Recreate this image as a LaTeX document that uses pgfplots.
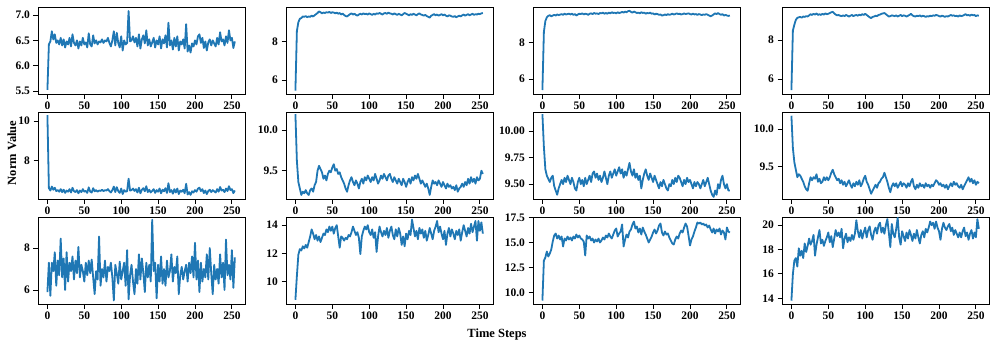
\documentclass[border=0pt]{standalone}
\usepackage{fontspec}
\setmainfont{Liberation Serif}
\usepackage{pgfplots}
\pgfplotsset{compat=1.18}
\definecolor{tabblue}{RGB}{31,119,180}
\pgfplotsset{
  panel/.style={
    width=207pt, height=87pt, scale only axis,
    anchor=north west,
    xmin=-12.75, xmax=267.75,
    xtick={0,50,100,150,200,250},
    xticklabels={0,50,100,150,200,250},
    tick align=outside,
    xtick pos=bottom, ytick pos=left,
    major tick length=4.5pt,
    tick style={black, line width=0.9pt},
    axis line style={line width=0.9pt},
    ticklabel style={font=\bfseries\fontsize{11.5}{13}\selectfont},
    /pgf/number format/assume math mode=true,
    cycle list={{tabblue, mark=none}},
    every axis plot post/.append style={line width=1.8pt, line join=round},
    clip=true,
  },
}
\begin{document}
\begin{tikzpicture}
\path[use as bounding box] (0pt,0pt) rectangle (996pt,-349pt);
% ---------------- Row 1 ----------------
\begin{axis}[panel, at={(38pt,-7pt)}, ymin=5.44, ymax=7.16, ytick={5.5,6.0,6.5,7.0}, yticklabels={5.5,6.0,6.5,7.0}]
\addplot table[x expr=\coordindex*2, y index=0, header=false, row sep=\\] {
5.52\\6.42\\6.48\\6.68\\6.52\\6.62\\6.45\\6.50\\6.42\\6.55\\6.40\\6.52\\6.36\\6.48\\6.42\\6.55\\
6.38\\6.62\\6.45\\6.40\\6.50\\6.34\\6.48\\6.40\\6.55\\6.42\\6.46\\6.36\\6.64\\6.42\\6.38\\6.60\\
6.44\\6.50\\6.42\\6.48\\6.46\\6.52\\6.45\\6.50\\6.48\\6.55\\6.45\\6.38\\6.50\\6.68\\6.40\\6.65\\
6.45\\6.36\\6.58\\6.30\\6.50\\6.42\\6.45\\7.08\\6.48\\6.50\\6.58\\6.46\\6.55\\6.38\\6.62\\6.34\\
6.52\\6.60\\6.44\\6.70\\6.40\\6.52\\6.38\\6.46\\6.55\\6.36\\6.50\\6.42\\6.58\\6.34\\6.52\\6.44\\
6.60\\6.36\\6.85\\6.40\\6.50\\6.32\\6.55\\6.38\\6.58\\6.30\\6.48\\6.42\\6.52\\6.34\\6.82\\6.28\\
6.40\\6.26\\6.44\\6.38\\6.50\\6.42\\6.58\\6.62\\6.45\\6.55\\6.35\\6.48\\6.30\\6.46\\6.52\\6.40\\
6.50\\6.44\\6.38\\6.55\\6.42\\6.66\\6.48\\6.52\\6.40\\6.58\\6.45\\6.70\\6.50\\6.55\\6.35\\6.48\\
};
\end{axis}
\begin{axis}[panel, at={(286pt,-7pt)}, ymin=5.28, ymax=9.79, ytick={6,8}, yticklabels={6,8}]
\addplot table[x expr=\coordindex*2, y index=0, header=false, row sep=\\] {
5.45\\8.55\\9.00\\9.18\\9.22\\9.30\\9.28\\9.32\\9.26\\9.30\\9.28\\9.34\\9.30\\9.36\\9.42\\9.48\\
9.56\\9.52\\9.46\\9.50\\9.48\\9.52\\9.50\\9.54\\9.48\\9.52\\9.50\\9.46\\9.50\\9.44\\9.48\\9.40\\
9.45\\9.38\\9.32\\9.30\\9.36\\9.42\\9.46\\9.40\\9.44\\9.38\\9.34\\9.40\\9.44\\9.40\\9.46\\9.42\\
9.44\\9.40\\9.46\\9.42\\9.38\\9.44\\9.40\\9.46\\9.44\\9.48\\9.44\\9.40\\9.46\\9.48\\9.44\\9.50\\
9.46\\9.44\\9.40\\9.46\\9.42\\9.38\\9.44\\9.40\\9.36\\9.42\\9.48\\9.44\\9.40\\9.36\\9.42\\9.38\\
9.44\\9.40\\9.36\\9.42\\9.46\\9.40\\9.38\\9.34\\9.38\\9.32\\9.28\\9.24\\9.34\\9.38\\9.42\\9.36\\
9.40\\9.34\\9.38\\9.42\\9.36\\9.40\\9.34\\9.30\\9.36\\9.34\\9.30\\9.28\\9.32\\9.26\\9.30\\9.34\\
9.30\\9.36\\9.40\\9.34\\9.38\\9.42\\9.36\\9.40\\9.44\\9.38\\9.42\\9.40\\9.44\\9.42\\9.46\\9.48\\
};
\end{axis}
\begin{axis}[panel, at={(533pt,-7pt)}, ymin=5.18, ymax=9.97, ytick={6,8}, yticklabels={6,8}]
\addplot table[x expr=\coordindex*2, y index=0, header=false, row sep=\\] {
5.40\\8.60\\9.20\\9.40\\9.48\\9.52\\9.46\\9.50\\9.54\\9.50\\9.56\\9.52\\9.55\\9.58\\9.54\\9.60\\
9.56\\9.58\\9.60\\9.56\\9.60\\9.54\\9.58\\9.50\\9.56\\9.60\\9.58\\9.62\\9.56\\9.60\\9.58\\9.54\\
9.60\\9.62\\9.58\\9.64\\9.60\\9.62\\9.58\\9.64\\9.62\\9.66\\9.60\\9.64\\9.60\\9.66\\9.62\\9.68\\
9.64\\9.66\\9.62\\9.68\\9.64\\9.66\\9.70\\9.66\\9.72\\9.68\\9.74\\9.76\\9.70\\9.66\\9.72\\9.68\\
9.64\\9.66\\9.62\\9.68\\9.64\\9.66\\9.60\\9.64\\9.62\\9.66\\9.60\\9.62\\9.56\\9.60\\9.58\\9.54\\
9.56\\9.50\\9.52\\9.56\\9.52\\9.58\\9.54\\9.56\\9.60\\9.56\\9.58\\9.62\\9.58\\9.60\\9.56\\9.58\\
9.62\\9.58\\9.60\\9.62\\9.58\\9.56\\9.60\\9.56\\9.58\\9.54\\9.58\\9.56\\9.52\\9.56\\9.54\\9.58\\
9.54\\9.50\\9.46\\9.50\\9.56\\9.62\\9.58\\9.64\\9.58\\9.54\\9.58\\9.50\\9.54\\9.50\\9.48\\9.50\\
};
\end{axis}
\begin{axis}[panel, at={(782pt,-7pt)}, ymin=5.23, ymax=9.71, ytick={6,8}, yticklabels={6,8}]
\addplot table[x expr=\coordindex*2, y index=0, header=false, row sep=\\] {
5.43\\8.50\\8.80\\9.05\\9.15\\9.18\\9.20\\9.16\\9.22\\9.20\\9.24\\9.22\\9.28\\9.34\\9.30\\9.36\\
9.32\\9.38\\9.30\\9.34\\9.30\\9.36\\9.32\\9.38\\9.34\\9.36\\9.40\\9.44\\9.46\\9.38\\9.32\\9.28\\
9.30\\9.26\\9.24\\9.28\\9.24\\9.30\\9.26\\9.22\\9.26\\9.30\\9.24\\9.28\\9.30\\9.26\\9.32\\9.28\\
9.34\\9.30\\9.36\\9.30\\9.24\\9.18\\9.14\\9.20\\9.22\\9.26\\9.24\\9.30\\9.32\\9.36\\9.38\\9.40\\
9.34\\9.28\\9.22\\9.24\\9.28\\9.26\\9.24\\9.28\\9.22\\9.26\\9.30\\9.24\\9.28\\9.26\\9.22\\9.26\\
9.30\\9.36\\9.28\\9.24\\9.22\\9.26\\9.24\\9.28\\9.22\\9.26\\9.24\\9.20\\9.24\\9.22\\9.26\\9.24\\
9.28\\9.26\\9.30\\9.28\\9.24\\9.22\\9.26\\9.24\\9.20\\9.24\\9.22\\9.26\\9.30\\9.26\\9.28\\9.24\\
9.26\\9.22\\9.28\\9.24\\9.26\\9.30\\9.34\\9.28\\9.30\\9.26\\9.32\\9.28\\9.30\\9.24\\9.28\\9.26\\
};
\end{axis}
% ---------------- Row 2 ----------------
\begin{axis}[panel, at={(38pt,-112pt)}, ymin=6.05, ymax=10.46, ytick={8,10}, yticklabels={8,10}]
\addplot table[x expr=\coordindex*2, y index=0, header=false, row sep=\\] {
10.30\\6.60\\6.48\\6.68\\6.52\\6.62\\6.45\\6.50\\6.42\\6.55\\6.40\\6.52\\6.36\\6.48\\6.42\\6.55\\
6.38\\6.62\\6.45\\6.40\\6.50\\6.34\\6.48\\6.40\\6.55\\6.42\\6.46\\6.36\\6.64\\6.42\\6.38\\6.60\\
6.44\\6.50\\6.42\\6.48\\6.46\\6.52\\6.45\\6.50\\6.48\\6.55\\6.45\\6.38\\6.50\\6.68\\6.40\\6.65\\
6.45\\6.36\\6.58\\6.30\\6.50\\6.42\\6.45\\7.08\\6.48\\6.50\\6.58\\6.46\\6.55\\6.38\\6.62\\6.34\\
6.52\\6.60\\6.44\\6.70\\6.40\\6.52\\6.38\\6.46\\6.55\\6.36\\6.50\\6.42\\6.58\\6.34\\6.52\\6.44\\
6.60\\6.36\\6.85\\6.40\\6.50\\6.32\\6.55\\6.38\\6.58\\6.30\\6.48\\6.42\\6.52\\6.34\\6.82\\6.28\\
6.40\\6.26\\6.44\\6.38\\6.50\\6.42\\6.58\\6.62\\6.45\\6.55\\6.35\\6.48\\6.30\\6.46\\6.52\\6.40\\
6.50\\6.44\\6.38\\6.55\\6.42\\6.66\\6.48\\6.52\\6.40\\6.58\\6.45\\6.70\\6.50\\6.55\\6.35\\6.48\\
};
\end{axis}
\begin{axis}[panel, at={(286pt,-112pt)}, ymin=9.15, ymax=10.225, ytick={9.5,10.0}, yticklabels={9.5,10.0}]
\addplot table[x expr=\coordindex*2, y index=0, header=false, row sep=\\] {
10.20\\9.62\\9.36\\9.28\\9.20\\9.24\\9.22\\9.26\\9.22\\9.20\\9.26\\9.28\\9.24\\9.32\\9.36\\9.50\\
9.56\\9.52\\9.48\\9.40\\9.44\\9.38\\9.46\\9.50\\9.48\\9.54\\9.58\\9.50\\9.52\\9.46\\9.48\\9.42\\
9.38\\9.34\\9.28\\9.24\\9.32\\9.38\\9.42\\9.36\\9.32\\9.38\\9.34\\9.28\\9.36\\9.40\\9.34\\9.42\\
9.38\\9.44\\9.40\\9.36\\9.42\\9.38\\9.46\\9.40\\9.34\\9.38\\9.44\\9.40\\9.46\\9.42\\9.38\\9.44\\
9.46\\9.40\\9.36\\9.42\\9.38\\9.34\\9.40\\9.36\\9.32\\9.40\\9.36\\9.30\\9.36\\9.40\\9.34\\9.42\\
9.38\\9.44\\9.40\\9.46\\9.40\\9.34\\9.38\\9.34\\9.30\\9.34\\9.28\\9.20\\9.30\\9.38\\9.34\\9.36\\
9.32\\9.38\\9.34\\9.30\\9.36\\9.32\\9.28\\9.34\\9.30\\9.32\\9.28\\9.30\\9.26\\9.32\\9.24\\9.28\\
9.30\\9.34\\9.30\\9.36\\9.32\\9.40\\9.34\\9.42\\9.36\\9.40\\9.34\\9.42\\9.38\\9.40\\9.50\\9.46\\
};
\end{axis}
\begin{axis}[panel, at={(533pt,-112pt)}, ymin=9.36, ymax=10.18, ytick={9.5,9.75,10.0}, yticklabels={9.50,9.75,10.00}]
\addplot table[x expr=\coordindex*2, y index=0, header=false, row sep=\\] {
10.16\\9.85\\9.64\\9.58\\9.55\\9.52\\9.56\\9.58\\9.48\\9.44\\9.40\\9.46\\9.50\\9.54\\9.50\\9.56\\
9.52\\9.58\\9.54\\9.50\\9.56\\9.52\\9.46\\9.44\\9.52\\9.56\\9.50\\9.54\\9.48\\9.56\\9.50\\9.54\\
9.58\\9.52\\9.60\\9.62\\9.56\\9.60\\9.54\\9.58\\9.52\\9.56\\9.62\\9.56\\9.50\\9.58\\9.62\\9.56\\
9.60\\9.64\\9.58\\9.62\\9.66\\9.60\\9.64\\9.56\\9.62\\9.58\\9.64\\9.70\\9.62\\9.58\\9.64\\9.56\\
9.60\\9.54\\9.58\\9.46\\9.54\\9.60\\9.64\\9.58\\9.54\\9.60\\9.56\\9.52\\9.58\\9.54\\9.50\\9.46\\
9.52\\9.48\\9.54\\9.50\\9.46\\9.44\\9.50\\9.48\\9.54\\9.50\\9.56\\9.52\\9.58\\9.56\\9.52\\9.48\\
9.54\\9.50\\9.56\\9.52\\9.54\\9.50\\9.46\\9.52\\9.48\\9.52\\9.50\\9.46\\9.50\\9.54\\9.48\\9.52\\
9.56\\9.50\\9.44\\9.40\\9.38\\9.44\\9.40\\9.50\\9.46\\9.54\\9.58\\9.50\\9.46\\9.50\\9.44\\9.44\\
};
\end{axis}
\begin{axis}[panel, at={(782pt,-112pt)}, ymin=9.07, ymax=10.23, ytick={9.5,10.0}, yticklabels={9.5,10.0}]
\addplot table[x expr=\coordindex*2, y index=0, header=false, row sep=\\] {
10.18\\9.75\\9.56\\9.46\\9.36\\9.40\\9.38\\9.34\\9.30\\9.24\\9.20\\9.18\\9.28\\9.36\\9.32\\9.36\\
9.34\\9.40\\9.30\\9.34\\9.28\\9.30\\9.36\\9.32\\9.36\\9.32\\9.36\\9.42\\9.46\\9.40\\9.36\\9.32\\
9.34\\9.28\\9.32\\9.26\\9.30\\9.24\\9.28\\9.32\\9.26\\9.22\\9.28\\9.24\\9.30\\9.26\\9.32\\9.24\\
9.28\\9.34\\9.38\\9.30\\9.26\\9.20\\9.14\\9.18\\9.22\\9.26\\9.22\\9.28\\9.30\\9.34\\9.36\\9.42\\
9.36\\9.30\\9.22\\9.16\\9.24\\9.28\\9.24\\9.28\\9.22\\9.26\\9.30\\9.24\\9.28\\9.26\\9.22\\9.28\\
9.24\\9.30\\9.34\\9.24\\9.20\\9.26\\9.22\\9.28\\9.24\\9.26\\9.22\\9.28\\9.24\\9.26\\9.22\\9.26\\
9.24\\9.28\\9.32\\9.30\\9.26\\9.28\\9.24\\9.26\\9.22\\9.26\\9.20\\9.24\\9.28\\9.24\\9.30\\9.26\\
9.28\\9.24\\9.22\\9.26\\9.20\\9.24\\9.28\\9.32\\9.36\\9.30\\9.34\\9.28\\9.32\\9.26\\9.30\\9.28\\
};
\end{axis}
% ---------------- Row 3 ----------------
\begin{axis}[panel, at={(38pt,-217pt)}, ymin=5.33, ymax=9.48, ytick={6,8}, yticklabels={6,8}]
\addplot table[x expr=\coordindex*2, y index=0, header=false, row sep=\\] {
5.90\\7.30\\5.72\\7.30\\6.90\\7.80\\6.20\\7.40\\6.70\\8.45\\6.60\\7.50\\6.00\\7.80\\6.40\\7.30\\
6.90\\7.60\\6.50\\7.40\\6.80\\8.05\\6.60\\7.20\\6.90\\6.40\\7.30\\6.70\\7.40\\6.80\\7.45\\6.60\\
5.80\\6.90\\6.50\\8.55\\6.20\\7.00\\6.60\\7.40\\6.40\\7.10\\6.90\\7.30\\6.60\\5.50\\7.20\\6.80\\
6.30\\7.35\\6.50\\6.90\\7.30\\6.20\\7.90\\5.55\\6.70\\7.20\\6.40\\5.80\\7.00\\6.30\\7.70\\6.50\\
7.50\\6.80\\5.90\\7.30\\6.60\\7.20\\6.40\\9.35\\6.90\\7.30\\5.60\\7.20\\6.40\\7.60\\6.30\\7.00\\
6.20\\7.40\\6.60\\6.90\\7.70\\6.40\\7.10\\6.80\\7.60\\5.80\\6.70\\7.10\\6.50\\6.90\\7.20\\6.40\\
7.30\\6.80\\7.60\\6.60\\8.25\\6.50\\7.40\\5.90\\7.30\\6.40\\7.00\\6.60\\7.70\\6.50\\8.00\\6.80\\
5.80\\7.20\\6.50\\7.00\\6.30\\7.70\\6.60\\7.30\\6.00\\8.40\\6.70\\7.20\\6.50\\7.90\\6.10\\7.55\\
};
\end{axis}
\begin{axis}[panel, at={(286pt,-217pt)}, ymin=8.4, ymax=14.58, ytick={10,12,14}, yticklabels={10,12,14}]
\addplot table[x expr=\coordindex*2, y index=0, header=false, row sep=\\] {
8.70\\10.40\\11.90\\12.30\\12.20\\12.50\\12.35\\12.60\\12.40\\12.80\\13.20\\13.70\\13.40\\13.00\\13.30\\12.90\\
13.20\\12.80\\13.10\\13.40\\13.30\\13.70\\13.50\\13.90\\13.60\\13.90\\13.40\\13.80\\14.00\\13.20\\12.40\\13.20\\
13.10\\12.90\\13.10\\13.00\\13.30\\13.20\\13.50\\13.90\\13.60\\13.30\\13.50\\13.10\\11.95\\13.20\\13.60\\13.90\\
13.70\\14.00\\13.50\\13.30\\13.70\\13.10\\13.50\\12.10\\13.20\\13.90\\13.50\\13.20\\13.60\\13.30\\13.80\\13.10\\
13.60\\13.90\\13.30\\13.00\\13.70\\13.20\\13.80\\13.40\\12.60\\13.20\\12.50\\13.40\\13.00\\13.60\\13.30\\14.40\\
13.80\\13.20\\13.60\\13.00\\13.80\\13.40\\13.70\\13.10\\13.60\\12.90\\13.30\\13.80\\13.40\\13.00\\13.60\\13.90\\
14.30\\13.50\\13.90\\13.40\\13.00\\13.60\\12.60\\13.40\\13.80\\13.20\\13.70\\13.40\\13.00\\13.60\\13.30\\13.70\\
12.90\\13.50\\14.00\\13.60\\13.20\\13.80\\13.40\\14.10\\13.50\\13.90\\14.30\\12.90\\14.30\\13.60\\14.20\\13.40\\
};
\end{axis}
\begin{axis}[panel, at={(533pt,-217pt)}, ymin=8.85, ymax=17.55, ytick={10,12.5,15,17.5}, yticklabels={10.0,12.5,15.0,17.5}]
\addplot table[x expr=\coordindex*2, y index=0, header=false, row sep=\\] {
9.20\\13.20\\13.50\\14.10\\13.60\\13.90\\14.30\\15.10\\15.70\\15.90\\15.40\\15.70\\15.30\\15.60\\14.60\\15.40\\
15.20\\15.60\\15.30\\15.50\\15.20\\15.60\\15.40\\15.80\\15.50\\15.70\\15.40\\15.30\\15.10\\13.70\\15.70\\15.40\\
15.60\\15.20\\15.40\\15.00\\15.30\\15.10\\15.40\\15.00\\15.20\\15.50\\15.30\\15.70\\15.50\\15.90\\15.60\\15.40\\
15.80\\16.20\\16.40\\15.60\\15.90\\16.10\\16.80\\14.60\\15.30\\15.80\\15.50\\16.10\\16.30\\16.80\\17.10\\16.40\\
16.60\\16.00\\16.40\\15.80\\16.50\\16.10\\15.80\\15.40\\15.00\\15.30\\15.60\\16.00\\16.30\\15.90\\16.20\\16.70\\
16.90\\16.00\\15.70\\16.10\\15.80\\15.90\\15.50\\15.20\\14.90\\14.80\\15.30\\15.60\\15.40\\15.90\\16.20\\16.00\\
16.50\\16.90\\16.60\\15.70\\14.70\\15.30\\15.60\\16.10\\16.50\\17.00\\16.90\\17.00\\16.80\\16.90\\16.70\\16.80\\
16.50\\16.70\\16.30\\16.00\\16.40\\15.90\\16.30\\16.10\\16.40\\15.80\\16.20\\16.00\\15.30\\16.50\\16.10\\16.00\\
};
\end{axis}
\begin{axis}[panel, at={(782pt,-217pt)}, ymin=13.53, ymax=20.67, ytick={14,16,18,20}, yticklabels={14,16,18,20}]
\addplot table[x expr=\coordindex*2, y index=0, header=false, row sep=\\] {
13.80\\16.00\\17.10\\17.30\\16.60\\18.10\\17.50\\17.90\\17.30\\18.50\\17.80\\18.30\\18.90\\18.40\\18.70\\19.20\\
17.50\\18.40\\19.00\\19.60\\18.50\\18.80\\18.30\\18.70\\19.00\\19.40\\18.60\\19.10\\18.20\\18.90\\19.60\\19.10\\
19.40\\19.00\\19.70\\18.10\\18.90\\19.30\\18.60\\19.00\\18.70\\19.20\\18.80\\19.30\\20.40\\19.50\\19.00\\19.60\\
18.90\\19.40\\19.80\\19.00\\19.60\\19.90\\19.20\\18.80\\19.50\\19.80\\19.30\\20.00\\20.20\\19.40\\19.80\\19.30\\
20.00\\20.50\\19.40\\18.20\\20.10\\19.30\\19.00\\19.70\\20.60\\19.00\\18.40\\19.50\\19.10\\18.70\\19.40\\18.90\\
19.60\\19.20\\18.70\\19.30\\18.90\\19.60\\19.00\\18.50\\19.20\\19.50\\19.00\\19.70\\19.40\\19.80\\20.30\\20.00\\
20.20\\19.70\\20.30\\19.80\\19.50\\18.80\\19.70\\20.20\\19.80\\19.60\\19.90\\20.10\\19.50\\19.80\\19.20\\19.60\\
19.30\\19.00\\19.40\\19.00\\19.50\\19.80\\19.10\\19.40\\18.80\\19.30\\19.60\\18.90\\19.40\\19.00\\20.50\\19.70\\
};
\end{axis}
\node[rotate=90, font=\bfseries\fontsize{12.5}{15}\selectfont] at (12pt,-153pt) {Norm Value};
\node[font=\bfseries\fontsize{12.5}{15}\selectfont] at (497pt,-334pt) {Time Steps};
\end{tikzpicture}
\end{document}
